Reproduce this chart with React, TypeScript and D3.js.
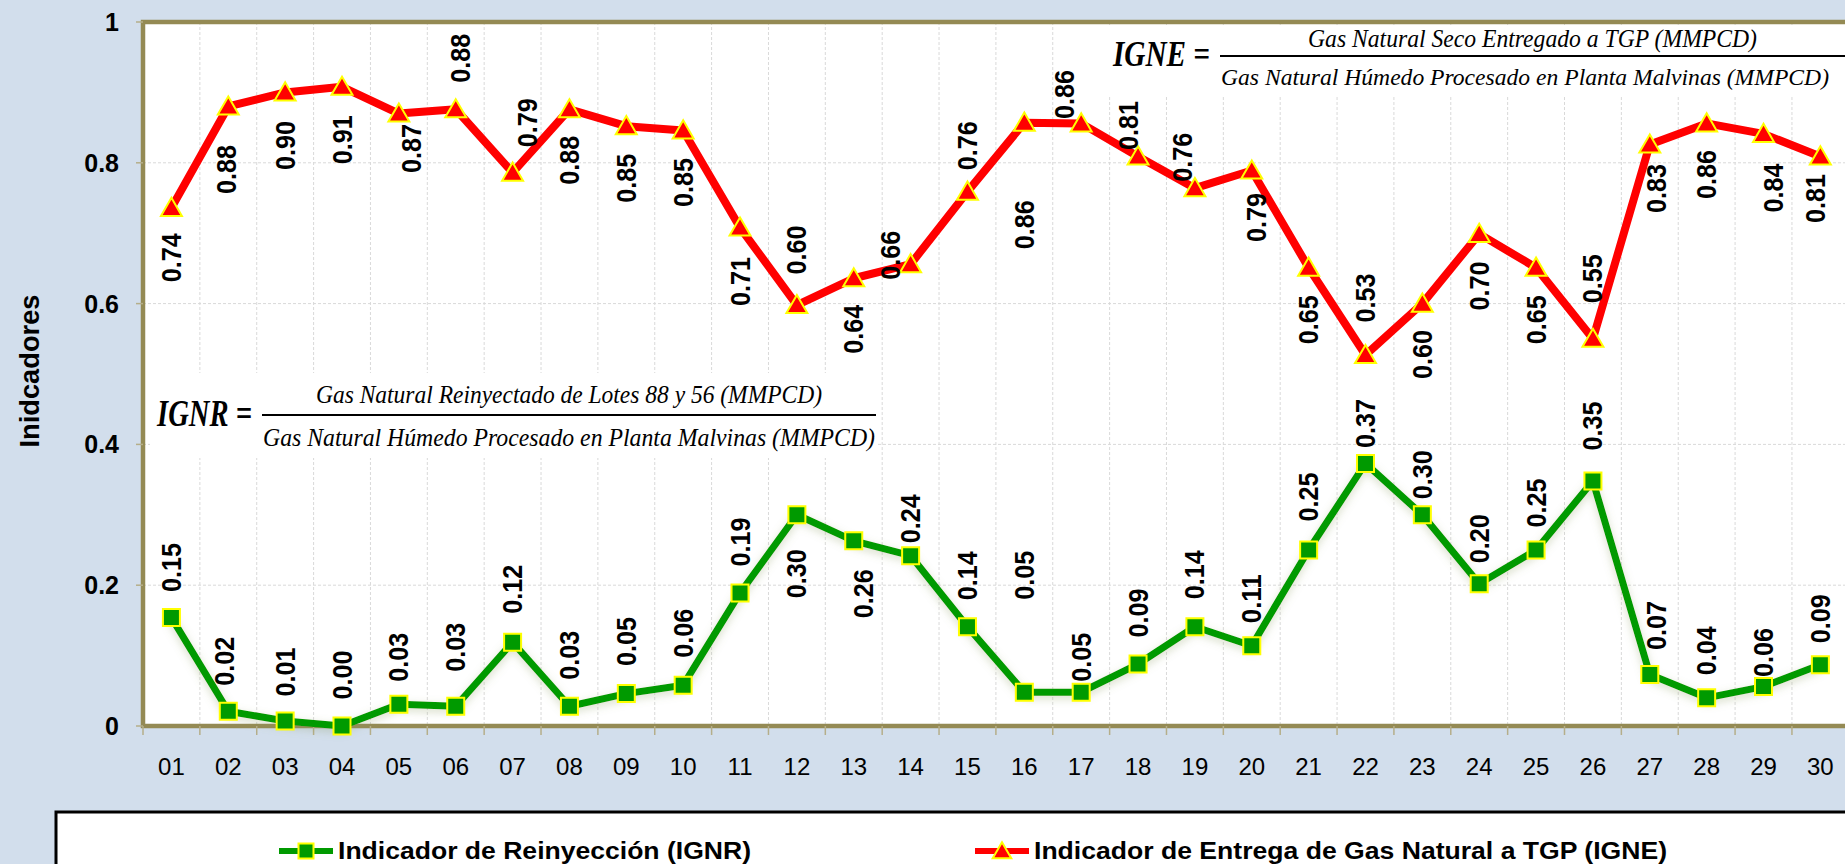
import React, { useEffect, useRef } from 'react'
import * as d3 from 'd3'

const days = ['01', '02', '03', '04', '05', '06', '07', '08', '09', '10', '11', '12', '13', '14', '15',
    '16', '17', '18', '19', '20', '21', '22', '23', '24', '25', '26', '27', '28', '29', '30']

// Indicador de Reinyección (IGNR)
const ignr = [0.154, 0.021, 0.007, 0.0, 0.031, 0.028, 0.119, 0.028, 0.046, 0.058, 0.189, 0.3, 0.263, 0.242, 0.141,
    0.048, 0.048, 0.088, 0.141, 0.114, 0.25, 0.373, 0.3, 0.202, 0.25, 0.348, 0.073, 0.04, 0.056, 0.087]

// Indicador de Entrega de Gas Natural a TGP (IGNE)
const igne = [0.736, 0.88, 0.9, 0.908, 0.87, 0.876, 0.786, 0.876, 0.852, 0.846, 0.708, 0.598, 0.636, 0.656, 0.759,
    0.857, 0.856, 0.809, 0.764, 0.789, 0.651, 0.527, 0.6, 0.699, 0.651, 0.55, 0.826, 0.856, 0.841, 0.809]

const yTicks = [0, 0.2, 0.4, 0.6, 0.8, 1]
const yTickLabels = ['0', '0.2', '0.4', '0.6', '0.8', '1']
const seriesNames = ['Indicador de Reinyección (IGNR)', 'Indicador de Entrega de Gas Natural a TGP (IGNE)']
const yTitle = 'Inidcadores'

// where each data label sits relative to its point (pixels)
const ignrLabelDy = [-50, -50, -49, -51, -47, -59, -53, -51, -52, -52, -51, 59, 53, -37, -51,
    -117, -35, -51, -52, -47, -53, -40, -40, -45, -47, -55, -49, -47, -34, -46]
const ignrLabelDx = [0, -4, 0, 0, 0, 0, 0, 0, 0, 0, 0, 0, 10, 0, 0,
    0, 0, 0, 0, 0, 0, 0, 0, 0, 0, 0, 7, 0, 0, 0]
const igneLabelDy = [50, 63, 53, 53, 35, -51, -50, 51, 52, 52, 54, -55, 51, -9, -46,
    102, -29, -31, -31, 47, 52, -57, 51, 52, 52, -60, 44, 51, 54, 42]
const igneLabelDx = [0, -2, 0, 0, 13, 5, 15, 0, 0, 0, 0, 0, 0, -20, 0,
    0, -17, -10, -12, 5, 0, 0, 0, 0, 0, 0, 7, 0, 10, -5]

const W = 1845
const H = 864
const BG = '#D2DEEC'
const BORDER = '#948A54'
const RED = '#FF0000'
const GREEN = '#009A00'
const YELLOW = '#FFFF00'
const SANS = '"Liberation Sans", Arial, sans-serif'
const MATH = '"Liberation Serif", "DejaVu Serif", serif'

export default function App() {
    const ref = useRef<SVGSVGElement>(null)

    useEffect(() => {
        const svg = d3.select(ref.current)
        svg.selectAll('*').remove()

        const left = 143, top = 22, bottom = 726
        const step = 56.86
        const x = d3.scaleBand().domain(days).range([left, left + step * days.length])
        const y = d3.scaleLinear().domain([0, 1]).range([bottom, top])
        const cx = (i: number) => (x(days[i]) as number) + x.bandwidth() / 2

        svg.append('rect').attr('width', W).attr('height', H).attr('fill', BG)

        const defs = svg.append('defs')
        const glow = defs.append('filter').attr('id', 'glow')
            .attr('x', '-10%').attr('y', '-20%').attr('width', '120%').attr('height', '140%')
        glow.append('feDropShadow').attr('dx', 0).attr('dy', 3).attr('stdDeviation', 4)
            .attr('flood-color', '#8c9a60').attr('flood-opacity', 0.35)

        // plot area
        svg.append('rect')
            .attr('x', left).attr('y', top)
            .attr('width', step * days.length).attr('height', bottom - top)
            .attr('fill', '#fff')

        // grid
        const grid = svg.append('g').attr('stroke', '#D9D9D9').attr('stroke-width', 1).attr('stroke-dasharray', '3,2')
        grid.selectAll('line.h').data(yTicks.filter(t => t > 0 && t < 1)).join('line')
            .attr('x1', left).attr('x2', W).attr('y1', d => y(d)).attr('y2', d => y(d))
        grid.selectAll('line.v').data(days.slice(1)).join('line')
            .attr('x1', d => x(d) as number).attr('x2', d => x(d) as number)
            .attr('y1', top).attr('y2', bottom)

        // formula boxes
        svg.append('rect').attr('x', 150).attr('y', 373).attr('width', 727).attr('height', 85).attr('fill', '#fff')
        svg.append('rect').attr('x', 1105).attr('y', 25).attr('width', 740).attr('height', 70).attr('fill', '#fff')

        const math = svg.append('g').attr('font-family', MATH).attr('font-style', 'italic').attr('fill', '#000')
        const mtext = (tx: number, ty: number, len: number, size: number, s: string) =>
            math.append('text').attr('x', tx).attr('y', ty).attr('font-size', size)
                .attr('textLength', len).attr('lengthAdjust', 'spacingAndGlyphs').text(s)

        mtext(157, 426, 95, 38, 'IGNR =').attr('font-weight', 'bold')
        mtext(316, 403, 506, 26, 'Gas Natural Reinyectado de Lotes 88 y 56 (MMPCD)')
        mtext(263, 446, 612, 26, 'Gas Natural Húmedo Procesado en Planta Malvinas (MMPCD)')
        math.append('line').attr('x1', 262).attr('x2', 876).attr('y1', 415).attr('y2', 415)
            .attr('stroke', '#000').attr('stroke-width', 2)

        mtext(1113, 66, 97, 36, 'IGNE =').attr('font-weight', 'bold')
        mtext(1308, 47, 449, 25, 'Gas Natural Seco Entregado a TGP (MMPCD)')
        mtext(1221, 85, 608, 24, 'Gas Natural Húmedo Procesado en Planta Malvinas (MMPCD)')
        math.append('line').attr('x1', 1220).attr('x2', W).attr('y1', 56).attr('y2', 56)
            .attr('stroke', '#000').attr('stroke-width', 2)

        // border
        svg.append('path')
            .attr('d', `M${W + 10},${top} H${left} V${bottom} H${W + 10}`)
            .attr('fill', 'none').attr('stroke', BORDER).attr('stroke-width', 4.5)

        // y axis
        const yAxis = svg.append('g')
        yAxis.selectAll('line').data(yTicks).join('line')
            .attr('x1', left - 7).attr('x2', left).attr('y1', d => y(d)).attr('y2', d => y(d))
            .attr('stroke', '#B5AE8A').attr('stroke-width', 1.5)
        yAxis.selectAll('text').data(yTicks).join('text')
            .attr('x', 119).attr('y', d => y(d))
            .attr('text-anchor', 'end').attr('dominant-baseline', 'central')
            .attr('font-family', SANS).attr('font-weight', 'bold').attr('font-size', 25)
            .text((d, i) => yTickLabels[i])

        svg.append('text')
            .attr('transform', 'translate(30,371) rotate(-90)')
            .attr('text-anchor', 'middle').attr('dominant-baseline', 'central')
            .attr('font-family', SANS).attr('font-weight', 'bold').attr('font-size', 27)
            .attr('textLength', 153).attr('lengthAdjust', 'spacingAndGlyphs')
            .text(yTitle)

        // x axis
        const xAxis = svg.append('g')
        xAxis.selectAll('line').data(days).join('line')
            .attr('x1', d => x(d) as number).attr('x2', d => x(d) as number)
            .attr('y1', bottom).attr('y2', bottom + 9)
            .attr('stroke', '#B5AE8A').attr('stroke-width', 1.5)
        xAxis.selectAll('text').data(days).join('text')
            .attr('x', (d, i) => cx(i)).attr('y', 766)
            .attr('text-anchor', 'middle').attr('dominant-baseline', 'central')
            .attr('font-family', SANS).attr('font-size', 24)
            .text(d => d)

        const line = d3.line<number>().x((d, i) => cx(i)).y(d => y(d))
        const square = d3.symbol().type(d3.symbolSquare).size(17 * 17)
        const tri = d3.symbol().type(d3.symbolTriangle).size(190)

        // IGNR
        svg.append('path').datum(ignr).attr('d', line)
            .attr('fill', 'none').attr('stroke', GREEN).attr('stroke-width', 7)
            .attr('stroke-linejoin', 'round').attr('filter', 'url(#glow)')
        svg.append('g').selectAll('path').data(ignr).join('path')
            .attr('d', square)
            .attr('transform', (d, i) => `translate(${cx(i)},${y(d)})`)
            .attr('fill', GREEN).attr('stroke', YELLOW).attr('stroke-width', 2)

        // IGNE
        svg.append('path').datum(igne).attr('d', line)
            .attr('fill', 'none').attr('stroke', RED).attr('stroke-width', 8)
            .attr('stroke-linejoin', 'round')
        svg.append('g').selectAll('path').data(igne).join('path')
            .attr('d', tri)
            .attr('transform', (d, i) => `translate(${cx(i)},${y(d) + 2})`)
            .attr('fill', RED).attr('stroke', YELLOW).attr('stroke-width', 2)

        // data labels
        const labels = (vals: number[], dx: number[], dy: number[]) =>
            svg.append('g').selectAll('text').data(vals).join('text')
                .attr('transform', (d, i) => `translate(${cx(i) + dx[i]},${y(d) + dy[i]}) rotate(-90)`)
                .attr('text-anchor', 'middle').attr('dominant-baseline', 'central')
                .attr('font-family', SANS).attr('font-weight', 'bold').attr('font-size', 28)
                .attr('textLength', 49).attr('lengthAdjust', 'spacingAndGlyphs')
                .text(d => d.toFixed(2))
        labels(ignr, ignrLabelDx, ignrLabelDy)
        labels(igne, igneLabelDx, igneLabelDy)

        // legend
        const lg = svg.append('g')
        lg.append('rect').attr('x', 56).attr('y', 812).attr('width', W).attr('height', 100)
            .attr('fill', '#fff').attr('stroke', '#000').attr('stroke-width', 3)
        const legendSquare = d3.symbol().type(d3.symbolSquare).size(15 * 15)()
        const legendTri = d3.symbol().type(d3.symbolTriangle).size(150)()
        const items = [
            { x0: 279, text: seriesNames[0], len: 413, color: GREEN, mark: legendSquare, my: 851 },
            { x0: 975, text: seriesNames[1], len: 633, color: RED, mark: legendTri, my: 853 },
        ]
        items.forEach(it => {
            lg.append('line').attr('x1', it.x0).attr('x2', it.x0 + 54).attr('y1', 851).attr('y2', 851)
                .attr('stroke', it.color).attr('stroke-width', 6)
            lg.append('path').attr('d', it.mark)
                .attr('transform', `translate(${it.x0 + 27},${it.my})`)
                .attr('fill', it.color).attr('stroke', YELLOW).attr('stroke-width', 2)
            lg.append('text').attr('x', it.x0 + 59).attr('y', 859)
                .attr('font-family', SANS).attr('font-weight', 'bold').attr('font-size', 23)
                .attr('textLength', it.len).attr('lengthAdjust', 'spacingAndGlyphs')
                .text(it.text)
        })
    }, [])

    return (
        <div style={{ position: 'absolute', left: 0, top: 0 }}>
            <svg ref={ref} width={W} height={H} style={{ display: 'block' }} />
        </div>
    )
}
